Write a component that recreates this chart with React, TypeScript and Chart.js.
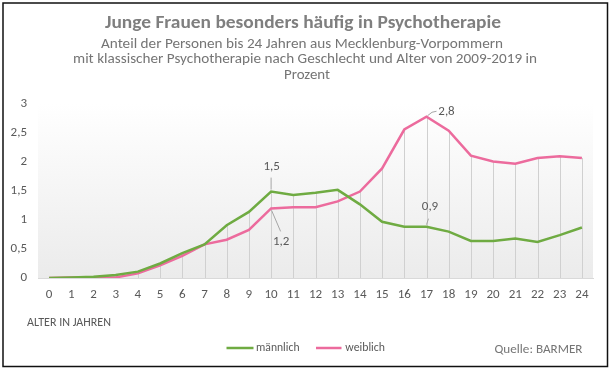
import React, { useEffect, useRef } from "react";
import { Chart, registerables } from "chart.js";

Chart.register(...registerables);

const ages = ["0","1","2","3","4","5","6","7","8","9","10","11","12","13","14","15","16","17","18","19","20","21","22","23","24"];
const maennlich = [0, 0.01, 0.02, 0.05, 0.11, 0.25, 0.43, 0.58, 0.91, 1.14, 1.49, 1.43, 1.47, 1.52, 1.27, 0.97, 0.885, 0.885, 0.8, 0.64, 0.64, 0.68, 0.62, 0.74, 0.87];
const weiblich = [0, 0.01, 0.01, 0.01, 0.08, 0.22, 0.38, 0.58, 0.66, 0.83, 1.2, 1.22, 1.22, 1.32, 1.49, 1.89, 2.56, 2.78, 2.54, 2.11, 2.01, 1.97, 2.07, 2.1, 2.07];
const yTicks = [0, 0.5, 1, 1.5, 2, 2.5, 3];

const titleText = "Junge Frauen besonders häufig in Psychotherapie";
const subtitleLines = [
  "Anteil der Personen bis 24 Jahren aus Mecklenburg-Vorpommern",
  "mit klassischer Psychotherapie nach Geschlecht und Alter von 2009-2019 in",
  "Prozent",
];
const axisTitle = "ALTER IN JAHREN";
const sourceText = "Quelle: BARMER";
const seriesNames = ["männlich", "weiblich"];

const GREEN = "#6fab42";
const PINK = "#ec6b9d";
const FONT = "Carlito, Calibri, Lato, sans-serif";

const fmt = (v: number) => String(v).replace(".", ",");

// draw text stretched horizontally to a target width (keeps it real text)
function drawFit(ctx: CanvasRenderingContext2D, text: string, x: number, y: number, width: number, align: "left" | "center") {
  const w = ctx.measureText(text).width;
  const sx = w > 0 ? width / w : 1;
  ctx.save();
  ctx.textAlign = align;
  ctx.translate(x, y);
  ctx.scale(sx, 1);
  ctx.fillText(text, 0, 0);
  ctx.restore();
}

export default function App() {
  const ref = useRef<HTMLCanvasElement | null>(null);

  useEffect(() => {
    if (!ref.current) return;

    const decor = {
      id: "decor",
      beforeDraw(chart: any) {
        const { ctx, chartArea } = chart;
        ctx.save();
        ctx.fillStyle = "#ffffff";
        ctx.fillRect(0, 0, chart.width, chart.height);
        const g = ctx.createLinearGradient(0, chartArea.top, 0, chartArea.bottom);
        g.addColorStop(0, "rgba(255,255,255,1)");
        g.addColorStop(1, "#ebebeb");
        ctx.fillStyle = g;
        ctx.fillRect(chartArea.left, chartArea.top, chartArea.right - chartArea.left, chartArea.bottom - chartArea.top);
        ctx.restore();
      },
      beforeDatasetsDraw(chart: any) {
        const { ctx } = chart;
        const xs = chart.scales.x;
        const ys = chart.scales.y;
        ctx.save();
        ctx.strokeStyle = "#d0d0d0";
        ctx.lineWidth = 1;
        for (let i = 0; i < ages.length; i++) {
          const x = Math.round(xs.getPixelForValue(i)) + 0.5;
          const top = ys.getPixelForValue(Math.max(maennlich[i], weiblich[i]));
          ctx.beginPath();
          ctx.moveTo(x, ys.getPixelForValue(0));
          ctx.lineTo(x, top);
          ctx.stroke();
        }
        ctx.restore();
      },
      afterDraw(chart: any) {
        const { ctx } = chart;
        const xs = chart.scales.x;
        const ys = chart.scales.y;
        ctx.save();
        // border
        ctx.strokeStyle = "#111";
        ctx.lineWidth = 1.5;
        ctx.strokeRect(3, 3, 604.5, 363.5);

        // title
        ctx.textBaseline = "alphabetic";
        ctx.fillStyle = "#7f7f7f";
        ctx.font = `bold 17px ${FONT}`;
        drawFit(ctx, titleText, 303, 27.5, 396, "center");
        ctx.fillStyle = "#757575";
        ctx.font = `14px ${FONT}`;
        const subX = [302, 305, 307];
        const subY = [47.5, 63, 79];
        const subW = [402, 464, 46];
        subtitleLines.forEach((t, i) => drawFit(ctx, t, subX[i], subY[i], subW[i], "center"));

        // axis title
        ctx.textBaseline = "middle";
        ctx.fillStyle = "#595959";
        ctx.font = `11.5px ${FONT}`;
        drawFit(ctx, axisTitle, 27, 323.5, 84, "left");

        // legend
        ctx.font = `12.5px ${FONT}`;
        const legend = [
          { x1: 226.5, x2: 253.5, tx: 256, tw: 43.5, color: GREEN, name: seriesNames[0] },
          { x1: 316, x2: 341.5, tx: 345.3, tw: 39.7, color: PINK, name: seriesNames[1] },
        ];
        legend.forEach((l) => {
          ctx.strokeStyle = l.color;
          ctx.lineWidth = 2.5;
          ctx.beginPath();
          ctx.moveTo(l.x1, 348);
          ctx.lineTo(l.x2, 348);
          ctx.stroke();
          ctx.fillStyle = "#595959";
          drawFit(ctx, l.name, l.tx, 347.5, l.tw, "left");
        });

        // source
        ctx.fillStyle = "#757575";
        ctx.font = `13px ${FONT}`;
        drawFit(ctx, sourceText, 494.5, 350, 88, "left");

        // data labels with leader lines
        const pt = (series: number[], i: number) => ({ x: xs.getPixelForValue(i), y: ys.getPixelForValue(series[i]) });
        const labels = [
          { s: maennlich, i: 10, dx: 0.5, dy: -25, lead: [[0, -14], [0, -2]] },
          { s: weiblich, i: 10, dx: 10, dy: 33, lead: [[0.5, 2], [9.5, 23]] },
          { s: weiblich, i: 17, dx: 20, dy: -5, lead: [[1, -1], [5.5, -4.5], [10, -5.5]] },
          { s: maennlich, i: 17, dx: 3.5, dy: -20, lead: [[2, -8], [0, -2]] },
        ];
        ctx.font = `13px ${FONT}`;
        ctx.textAlign = "center";
        ctx.textBaseline = "middle";
        labels.forEach((l) => {
          const p = pt(l.s, l.i);
          ctx.strokeStyle = "#a6a6a6";
          ctx.lineWidth = 1;
          ctx.beginPath();
          l.lead.forEach((q, k) => {
            if (k === 0) ctx.moveTo(p.x + q[0], p.y + q[1]);
            else ctx.lineTo(p.x + q[0], p.y + q[1]);
          });
          ctx.stroke();
          ctx.fillStyle = "#595959";
          ctx.fillText(fmt(Math.round(l.s[l.i] * 10) / 10), p.x + l.dx, p.y + l.dy);
        });
        ctx.restore();
      },
    };

    const chart = new Chart(ref.current, {
      type: "line",
      data: {
        labels: ages,
        datasets: [
          { label: seriesNames[0], data: maennlich, borderColor: GREEN, backgroundColor: GREEN, borderWidth: 2.5, pointRadius: 0, tension: 0 },
          { label: seriesNames[1], data: weiblich, borderColor: PINK, backgroundColor: PINK, borderWidth: 2.5, pointRadius: 0, tension: 0 },
        ],
      },
      options: {
        responsive: false,
        animation: false,
        devicePixelRatio: 1,
        layout: { padding: { left: 0, top: 104, right: 19, bottom: 62 } },
        plugins: { legend: { display: false }, title: { display: false }, tooltip: { enabled: false } },
        scales: {
          x: {
            offset: true,
            grid: { display: false, drawTicks: false },
            border: { display: true, color: "#d9d9d9", width: 1 },
            ticks: { color: "#595959", font: { family: FONT, size: 13 }, padding: 9, maxRotation: 0, autoSkip: false },
            afterFit: (s: any) => { s.height = 30; },
          },
          y: {
            min: 0,
            max: 3,
            afterBuildTicks: (s: any) => { s.ticks = yTicks.map((v) => ({ value: v })); },
            grid: { display: false, drawTicks: false },
            border: { display: false },
            ticks: { color: "#595959", font: { family: FONT, size: 13 }, padding: 11, callback: (v: any) => fmt(Number(v)) },
            afterFit: (s: any) => { s.width = 38; },
          },
        },
      },
      plugins: [decor],
    });
    return () => chart.destroy();
  }, []);

  return (
    <div style={{ position: "fixed", left: 0, top: 0, width: 612, height: 370, background: "#fff" }}>
      <canvas ref={ref} width={612} height={370} style={{ display: "block", width: 612, height: 370 }} />
    </div>
  );
}
